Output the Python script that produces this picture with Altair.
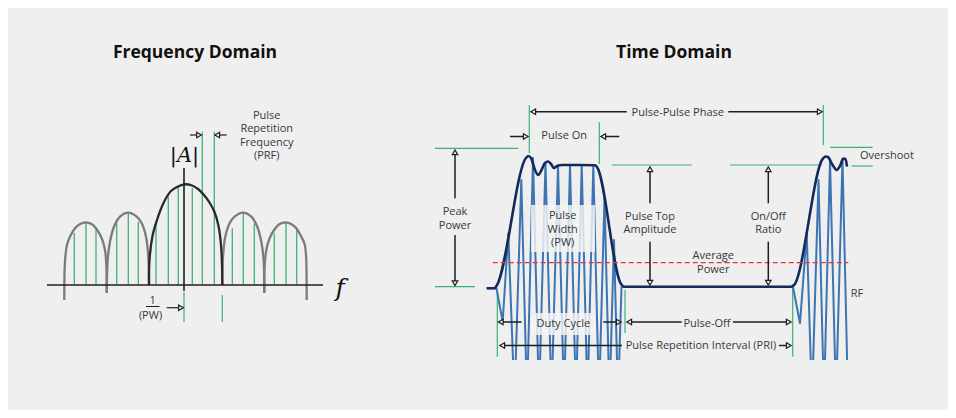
import altair as alt
import pandas as pd

BG = "#efefef"
GREEN = "#3cb371"
BLUE = "#3d74b3"
NAVY = "#142a5a"
TXT = "#383838"
FONT = "Open Sans"

# ---------------- Frequency domain (diagram units) ----------------
lobe1_x = [64.3, 64.6, 65.5, 67.2, 70.0, 75.0, 80.0, 86.0, 91.7, 96.7, 101.7, 105.0, 106.4, 106.7]
lobe1_y = [300.0, 270.0, 255.0, 244.0, 236.7, 228.3, 224.0, 222.3, 224.0, 229.3, 238.3, 250.0, 266.7, 293.0]
lobe2_x = [106.7, 107.7, 110.0, 114.0, 120.0, 128.3, 136.7, 141.7, 146.0, 148.3, 149.0]
lobe2_y = [293.0, 260.0, 241.7, 226.7, 216.7, 212.7, 216.7, 223.3, 236.7, 256.7, 285.0]
main_x = [149.0, 149.5, 152.5, 157.0, 160.5, 165.0, 171.0, 177.0, 184.5, 192.0, 198.0, 204.0, 209.5, 214.5, 218.5, 221.0, 222.0, 222.3]
main_y = [285.0, 260.0, 236.0, 220.0, 210.0, 200.0, 191.0, 187.0, 184.3, 185.5, 189.0, 195.0, 202.5, 212.0, 226.0, 245.0, 265.0, 285.0]
lobe4_x = [222.3, 223.0, 225.3, 229.6, 234.6, 243.0, 251.3, 257.3, 261.3, 263.6, 264.3]
lobe4_y = [285.0, 256.7, 236.7, 223.3, 216.7, 212.7, 216.7, 226.7, 241.7, 260.0, 293.0]
lobe5_x = [264.3, 264.6, 266.3, 269.6, 274.6, 279.6, 285.6, 291.3, 296.3, 301.3, 304.6, 306.0, 306.5, 306.7]
lobe5_y = [293.0, 266.7, 250.0, 238.3, 229.3, 224.0, 222.3, 224.0, 228.3, 236.7, 244.0, 255.0, 270.0, 300.0]

# spectral lines: position, top, bottom
spec_x = [74.3, 86.0, 96.0, 116.7, 128.3, 138.3, 156.0, 168.3, 178.3, 192.3, 202.3, 214.3, 232.3, 243.3, 254.3, 274.3, 286.0, 296.7]
spec_top = [233.0, 222.7, 230.0, 223.3, 213.3, 221.7, 221.0, 196.7, 186.7, 188.0, 131.7, 131.7, 228.3, 213.3, 223.3, 233.3, 222.7, 230.0]
spec_base = 285.0

# ---------------- Time domain (diagram units) ----------------
env_x = [486.7, 494.5, 497.0, 526.0, 528.3, 531.0, 535.0, 538.3, 541.5, 545.0, 548.0, 551.0, 554.0, 557.0, 562.0, 580.0, 595.0, 597.0, 621.0, 624.0, 791.0, 794.0, 823.0, 825.5, 828.0, 832.0, 836.7, 840.0, 843.3, 845.5, 847.0]
env_y = [288.3, 288.3, 285.0, 158.0, 156.0, 158.0, 170.0, 175.0, 170.0, 163.0, 161.5, 164.0, 168.0, 166.0, 165.0, 165.0, 165.2, 167.0, 284.0, 286.7, 286.7, 285.0, 158.5, 156.5, 157.0, 164.0, 170.0, 166.0, 158.5, 159.0, 166.7]

rf_x = [486.7, 496.5, 502.7, 508.3, 514.5, 521.3, 527.0, 533.0, 539.0, 545.5, 551.5, 558.0, 564.0, 570.0, 576.0, 581.7, 587.5, 593.3, 599.0, 604.5, 609.5, 614.0, 618.0, 621.5, 630.0, 793.0, 800.0, 806.7, 812.0, 818.5, 824.0, 830.0, 836.0, 842.5, 848.0]
rf_y = [288.3, 288.3, 321.7, 233.3, 400.0, 180.0, 400.0, 158.0, 400.0, 163.0, 400.0, 166.0, 400.0, 165.0, 400.0, 165.0, 400.0, 165.5, 400.0, 198.0, 400.0, 240.0, 400.0, 287.0, 287.0, 287.0, 323.3, 233.3, 400.0, 180.0, 400.0, 160.0, 400.0, 159.0, 400.0]

avg_power_y = 262.7
avg_power_x = [492.7, 848.3]

# green guide segments
g_x1 = [184.0, 222.3, 435.0, 435.0, 529.3, 823.3, 599.3, 611.7, 730.0, 830.0, 851.7, 497.3, 625.0, 792.7]
g_y1 = [292.0, 295.0, 148.3, 286.7, 105.0, 105.0, 122.3, 165.0, 165.0, 147.3, 166.0, 291.0, 290.0, 288.0]
g_x2 = [184.0, 222.3, 518.3, 475.0, 529.3, 823.3, 599.3, 691.7, 821.7, 872.7, 872.7, 497.3, 625.0, 792.7]
g_y2 = [322.0, 322.0, 148.3, 286.7, 153.3, 145.0, 164.0, 165.0, 165.0, 147.3, 166.0, 356.7, 333.0, 356.7]

# black lines (axes and arrow shafts)
b_x1 = [47.0, 184.0, 190.0, 217.0, 166.7, 146.0,
        455.0, 455.0, 533.0, 728.3, 510.0, 603.0, 650.0, 650.0, 768.3, 768.3,
        500.7, 603.3, 629.0, 733.0, 502.0, 779.0]
b_y1 = [285.0, 168.0, 135.0, 135.0, 307.7, 306.5,
        152.0, 235.0, 111.7, 111.7, 136.5, 136.5, 169.0, 241.7, 169.0, 241.7,
        322.0, 322.0, 322.0, 322.0, 345.5, 345.5]
b_x2 = [323.0, 184.0, 199.0, 226.7, 181.0, 159.5,
        455.0, 455.0, 626.7, 820.0, 526.0, 619.3, 650.0, 650.0, 768.3, 768.3,
        521.7, 619.0, 681.7, 789.0, 622.0, 789.0]
b_y2 = [285.0, 291.0, 135.0, 135.0, 307.7, 306.5,
        198.3, 283.0, 111.7, 111.7, 136.5, 136.5, 203.3, 283.0, 203.3, 283.0,
        322.0, 322.0, 322.0, 322.0, 345.5, 345.5]
b_w = [1.5, 1.6, 1.2, 1.2, 1.2, 1.0,
       1.5, 1.5, 1.5, 1.5, 1.5, 1.5, 1.5, 1.5, 1.5, 1.5,
       1.5, 1.5, 1.5, 1.5, 1.5, 1.5]

# arrowheads
h_x = [199.0, 217.2, 181.0,
       455.0, 455.0, 533.2, 819.8, 525.8, 603.2, 650.0, 650.0, 768.3, 768.3,
       500.7, 618.8, 629.2, 788.8, 502.2, 788.8]
h_y = [135.0, 135.0, 307.7,
       152.3, 283.3, 111.7, 111.7, 136.5, 136.5, 169.2, 282.8, 169.2, 282.8,
       322.0, 322.0, 322.0, 322.0, 345.5, 345.5]
h_shape = ["triangle-right", "triangle-left", "triangle-right",
           "triangle-up", "triangle-down", "triangle-left", "triangle-right", "triangle-right", "triangle-left",
           "triangle-up", "triangle-down", "triangle-up", "triangle-down",
           "triangle-left", "triangle-right", "triangle-left", "triangle-right", "triangle-left", "triangle-right"]

# translucent label boxes
box_x1 = [531.0, 531.0]
box_y1 = [205.0, 313.0]
box_x2 = [595.0, 595.0]
box_y2 = [252.0, 335.0]

# titles
title_txt = ["Frequency Domain", "Time Domain"]
title_x = [195.0, 674.0]
title_y = [53.0, 53.0]

# single-line annotation texts
lab_txt = ["1", "(PW)", "Pulse-Pulse Phase", "Pulse On", "RF",
           "Duty Cycle", "Pulse-Off", "Pulse Repetition Interval (PRI)"]
lab_x = [152.7, 150.5, 677.8, 564.2, 857.0, 563.3, 707.0, 701.0]
lab_y = [300.5, 315.5, 112.5, 136.0, 294.0, 323.5, 323.5, 346.0]

# multi-line annotation texts (position of first line)
ml_txt = ["Pulse\nRepetition\nFrequency\n(PRF)", "Peak\nPower", "Pulse\nWidth\n(PW)",
          "Pulse Top\nAmplitude", "On/Off\nRatio", "Average\nPower"]
ml_x = [266.7, 455.0, 562.7, 650.0, 768.3, 713.3]
ml_y = [115.7, 212.3, 216.0, 216.7, 216.7, 256.0]

over_txt = ["Overshoot"]
over_x = [860.0]
over_y = [156.0]

math_txt = ["|A|", "f"]
math_x = [184.5, 340.0]
math_y = [155.5, 287.5]
math_size = [21, 25]

# ---------------- build ----------------
X = lambda f="x": alt.X(f"{f}:Q", scale=alt.Scale(domain=[8, 948], nice=False, zero=False), axis=None)
Y = lambda f="y": alt.Y(f"{f}:Q", scale=alt.Scale(domain=[8, 360], nice=False, zero=False, reverse=True), axis=None)

def seg_df(x1, y1, x2, y2, **extra):
    d = pd.DataFrame({"x": x1, "y": y1, "x2": x2, "y2": y2})
    for k, v in extra.items():
        d[k] = v
    return d

layers = []

spec = pd.DataFrame({"x": spec_x, "y": spec_top, "y2": [spec_base] * len(spec_x)})
layers.append(alt.Chart(spec).mark_rule(color=GREEN, strokeWidth=1.3).encode(
    x=X(), y=Y(), y2="y2:Q"))

gseg = seg_df(g_x1, g_y1, g_x2, g_y2)
layers.append(alt.Chart(gseg).mark_rule(color=GREEN, strokeWidth=1.2).encode(
    x=X(), y=Y(), x2="x2:Q", y2="y2:Q"))

side = pd.concat([
    pd.DataFrame({"x": lobe1_x, "y": lobe1_y, "lobe": "l1", "o": range(len(lobe1_x))}),
    pd.DataFrame({"x": lobe2_x, "y": lobe2_y, "lobe": "l2", "o": range(len(lobe2_x))}),
    pd.DataFrame({"x": lobe4_x, "y": lobe4_y, "lobe": "l4", "o": range(len(lobe4_x))}),
    pd.DataFrame({"x": lobe5_x, "y": lobe5_y, "lobe": "l5", "o": range(len(lobe5_x))}),
])
layers.append(alt.Chart(side).mark_line(color="#7b7b7b", strokeWidth=2.3, interpolate="catmull-rom").encode(
    x=X(), y=Y(), detail="lobe:N", order="o:Q"))
mainl = pd.DataFrame({"x": main_x, "y": main_y, "o": range(len(main_x))})
layers.append(alt.Chart(mainl).mark_line(color="#2a2a2a", strokeWidth=2.3, interpolate="catmull-rom").encode(
    x=X(), y=Y(), order="o:Q"))

rf = pd.DataFrame({"x": rf_x, "y": rf_y, "o": range(len(rf_x))})
layers.append(alt.Chart(rf).mark_line(color=BLUE, strokeWidth=2.0, clip=True, strokeJoin="round").encode(
    x=X(), y=Y(), order="o:Q"))

boxes = seg_df(box_x1, box_y1, box_x2, box_y2)
layers.append(alt.Chart(boxes).mark_rect(color="#f4f4f4", opacity=0.82).encode(
    x=X(), y=Y(), x2="x2:Q", y2="y2:Q"))

env = pd.DataFrame({"x": env_x, "y": env_y, "o": range(len(env_x))})
layers.append(alt.Chart(env).mark_line(color=NAVY, strokeWidth=2.6, interpolate="monotone").encode(
    x=X(), y=Y(), order="o:Q"))

avg = pd.DataFrame({"x": [avg_power_x[0]], "x2": [avg_power_x[1]], "y": [avg_power_y]})
layers.append(alt.Chart(avg).mark_rule(color="#e0363b", strokeWidth=1.3, strokeDash=[5, 3]).encode(
    x=X(), x2="x2:Q", y=Y()))

bseg = seg_df(b_x1, b_y1, b_x2, b_y2, w=b_w)
layers.append(alt.Chart(bseg).mark_rule(color="#1e1e1e").encode(
    x=X(), y=Y(), x2="x2:Q", y2="y2:Q",
    strokeWidth=alt.StrokeWidth("w:Q", scale=None)))

heads = pd.DataFrame({"x": h_x, "y": h_y, "s": h_shape})
layers.append(alt.Chart(heads).mark_point(size=30, fill=BG, stroke="#1e1e1e", strokeWidth=1.2, opacity=1, filled=True).encode(
    x=X(), y=Y(), shape=alt.Shape("s:N", scale=None)))

titles = pd.DataFrame({"x": title_x, "y": title_y, "t": title_txt})
layers.append(alt.Chart(titles).mark_text(font=FONT, fontSize=17.5, fontWeight="bold", color="#111111",
                                          align="center", baseline="middle").encode(x=X(), y=Y(), text="t:N"))
labs = pd.DataFrame({"x": lab_x, "y": lab_y, "t": lab_txt})
layers.append(alt.Chart(labs).mark_text(font=FONT, fontSize=11, color=TXT,
                                        align="center", baseline="middle").encode(x=X(), y=Y(), text="t:N"))
ml = pd.DataFrame({"x": ml_x, "y": ml_y, "t": ml_txt})
layers.append(alt.Chart(ml).mark_text(font=FONT, fontSize=11, color=TXT, lineBreak="\n", lineHeight=13.5,
                                      align="center", baseline="middle").encode(x=X(), y=Y(), text="t:N"))
over = pd.DataFrame({"x": over_x, "y": over_y, "t": over_txt})
layers.append(alt.Chart(over).mark_text(font=FONT, fontSize=11, color=TXT,
                                        align="left", baseline="middle").encode(x=X(), y=Y(), text="t:N"))
math = pd.DataFrame({"x": math_x, "y": math_y, "t": math_txt, "s": math_size})
layers.append(alt.Chart(math).mark_text(font="DejaVu Serif", fontStyle="italic", color="#111111",
                                        align="center", baseline="middle").encode(
    x=X(), y=Y(), text="t:N", size=alt.Size("s:Q", scale=None)))

chart = alt.layer(*layers).properties(
    width=940, height=352,
    padding={"left": 0, "right": 0, "top": 0, "bottom": 50},
    autosize=alt.AutoSizeParams(type="none"),
    background=BG,
).configure_view(stroke=None)

chart.save("out.html", embed_options={"renderer": "svg", "actions": False})
